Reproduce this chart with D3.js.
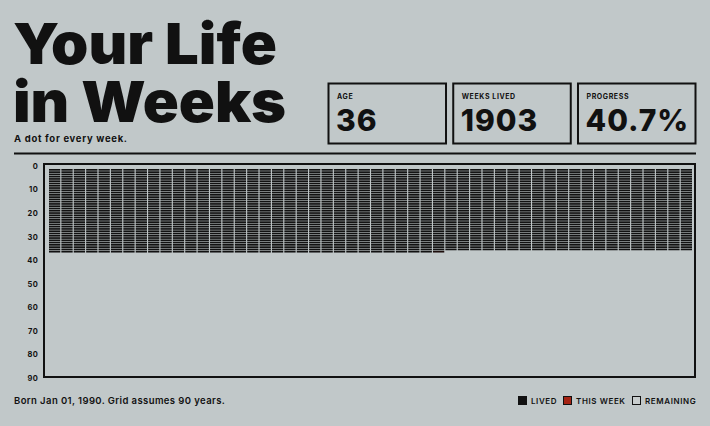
<!DOCTYPE html>
<html>
<head>
<meta charset="utf-8">
<script src="https://cdn.jsdelivr.net/npm/d3@7"></script>
<style>
  html, body { margin: 0; padding: 0; background: #c1c8c9; }
  svg { display: block; font-family: Inter, "Noto Sans", sans-serif; }
</style>
</head>
<body>
<div id="chart"></div>
<script>
// data
const totalYears = 90;
const weeksPerYear = 52;
const weeksLived = 1903;
const ageTicks = [0, 10, 20, 30, 40, 50, 60, 70, 80, 90];
const statLabels = ['AGE', 'WEEKS LIVED', 'PROGRESS'];
const statValues = ['36', '1903', '40.7%'];
const legendLabels = ['LIVED', 'THIS WEEK', 'REMAINING'];
const legendColors = ['#111111', '#a52313', '#c8cdcd'];

const W = 710, H = 426;
const ink = '#111111';

const svg = d3.select('#chart').append('svg')
    .attr('width', W)
    .attr('height', H);

svg.append('rect').attr('width', W).attr('height', H).attr('fill', '#c1c8c9');

// title - stretched to the width of the original lettering
const title = svg.append('text')
    .attr('fill', ink)
    .attr('font-size', 57)
    .attr('font-weight', 900);
title.append('tspan').attr('x', 13).attr('y', 64)
    .attr('textLength', 264).attr('lengthAdjust', 'spacingAndGlyphs')
    .text('Your Life');
title.append('tspan').attr('x', 13).attr('y', 122)
    .attr('textLength', 273).attr('lengthAdjust', 'spacingAndGlyphs')
    .text('in Weeks');

svg.append('text')
    .attr('x', 14).attr('y', 142)
    .attr('fill', ink)
    .attr('font-size', 9.5)
    .attr('font-weight', 700)
    .attr('letter-spacing', 0.7)
    .text('A dot for every week.');

// rule under header
svg.append('line')
    .attr('x1', 14).attr('x2', 696)
    .attr('y1', 153.5).attr('y2', 153.5)
    .attr('stroke', ink).attr('stroke-width', 2);

// stat boxes
const boxX = d3.scaleBand().domain(d3.range(statLabels.length)).range([328, 696]).paddingInner(0.05);
const boxes = svg.selectAll('.stat')
    .data(statLabels)
    .enter().append('g')
    .attr('class', 'stat')
    .attr('transform', (d, i) => `translate(${boxX(i)}, 83)`);

boxes.append('rect')
    .attr('x', 0.5).attr('y', 0.5)
    .attr('width', boxX.bandwidth() - 1).attr('height', 60)
    .attr('fill', 'none')
    .attr('stroke', ink).attr('stroke-width', 2);

boxes.append('text')
    .attr('x', 9).attr('y', 16)
    .attr('fill', ink)
    .attr('font-size', 7)
    .attr('font-weight', 700)
    .attr('letter-spacing', 0.6)
    .text(d => d);

boxes.append('text')
    .attr('x', 8).attr('y', 48)
    .attr('fill', ink)
    .attr('font-size', 30)
    .attr('font-weight', 800)
    .attr('letter-spacing', 1)
    .text((d, i) => statValues[i]);

// grid frame
svg.append('rect')
    .attr('x', 44).attr('y', 164)
    .attr('width', 651).attr('height', 213)
    .attr('fill', 'none')
    .attr('stroke', ink).attr('stroke-width', 2);

const x = d3.scaleBand().domain(d3.range(weeksPerYear)).range([49, 692]).paddingInner(0.09);
const y = d3.scaleBand().domain(d3.range(totalYears)).range([169, 373]).paddingInner(0.25);

// lived weeks plus the current one
const cells = d3.range(weeksLived + 1).map(i => ({
    year: Math.floor(i / weeksPerYear),
    week: i % weeksPerYear,
    current: i === weeksLived
}));

svg.append('g')
    .selectAll('rect')
    .data(cells)
    .enter().append('rect')
    .attr('x', d => x(d.week))
    .attr('y', d => y(d.year))
    .attr('width', x.bandwidth())
    .attr('height', y.bandwidth())
    .attr('fill', d => d.current ? '#1c0d0b' : ink);

// age axis
const yAxisScale = d3.scaleLinear().domain([0, totalYears]).range([166, 378]);
const axis = svg.append('g')
    .attr('transform', 'translate(38, 0)')
    .call(d3.axisLeft(yAxisScale).tickValues(ageTicks).tickSize(0).tickPadding(0));
axis.select('.domain').remove();
axis.selectAll('text')
    .attr('fill', ink)
    .attr('font-size', 7.5)
    .attr('font-weight', 700)
    .attr('letter-spacing', 0.3)
    .attr('font-family', 'Inter, sans-serif');

// footer
svg.append('text')
    .attr('x', 14).attr('y', 404)
    .attr('fill', ink)
    .attr('font-size', 9.5)
    .attr('font-weight', 600)
    .attr('letter-spacing', 0.4)
    .text('Born Jan 01, 1990. Grid assumes 90 years.');

// legend
const legendX = [518, 563, 632];
const legend = svg.selectAll('.legend-item')
    .data(legendLabels)
    .enter().append('g')
    .attr('class', 'legend-item')
    .attr('transform', (d, i) => `translate(${legendX[i]}, 396)`);

legend.append('rect')
    .attr('x', 0.5).attr('y', 0.5)
    .attr('width', 8).attr('height', 8)
    .attr('fill', (d, i) => legendColors[i])
    .attr('stroke', ink).attr('stroke-width', 1);

legend.append('text')
    .attr('x', 13).attr('y', 8)
    .attr('fill', ink)
    .attr('font-size', 8)
    .attr('font-weight', 600)
    .attr('letter-spacing', 0.6)
    .text(d => d);
</script>
</body>
</html>
